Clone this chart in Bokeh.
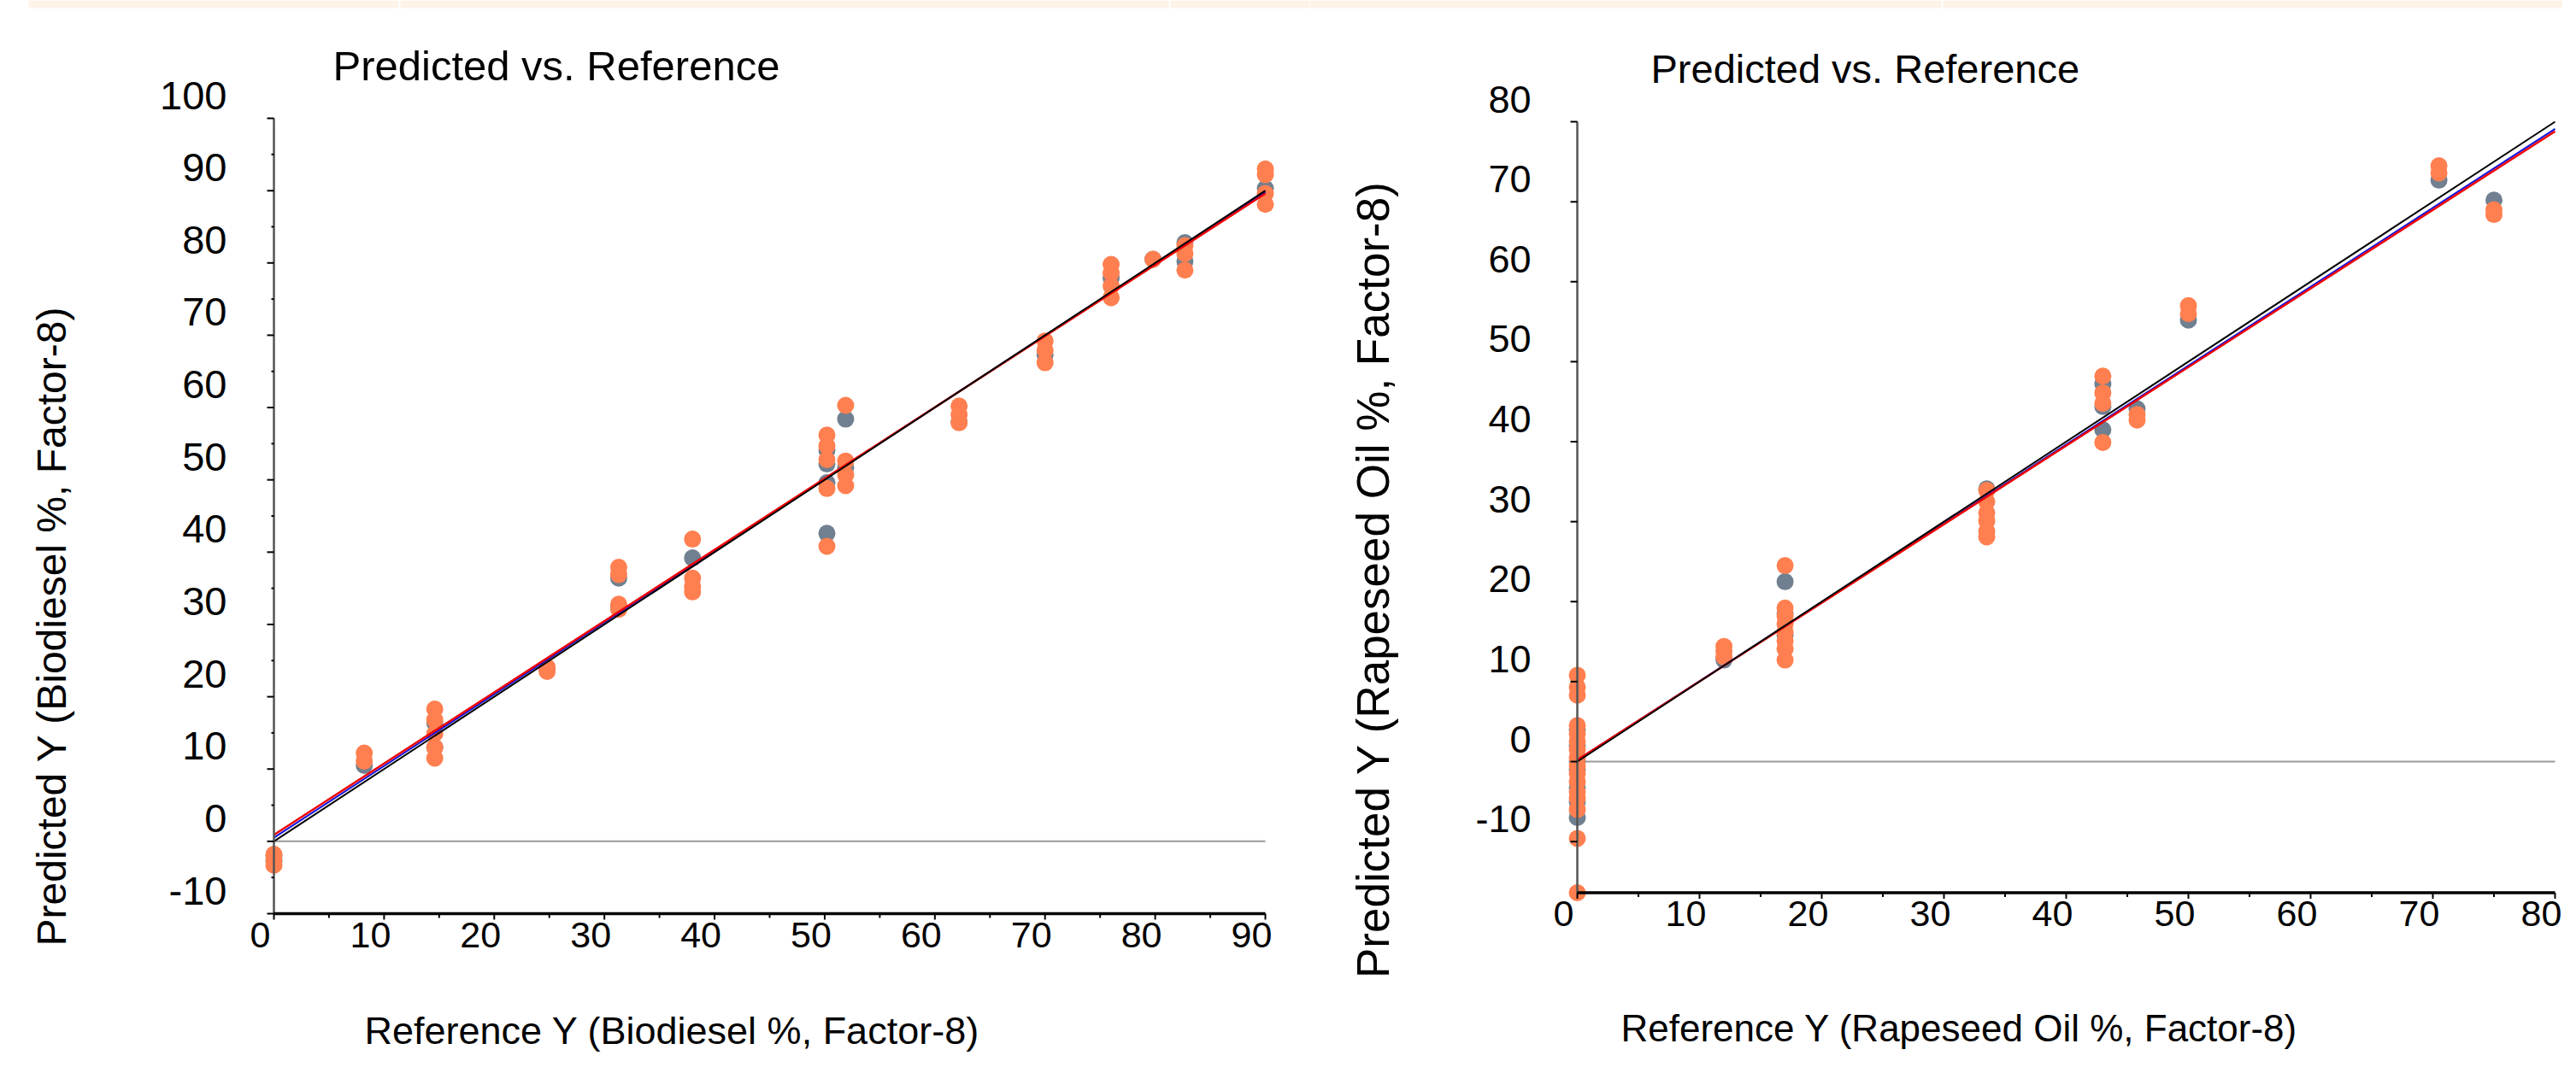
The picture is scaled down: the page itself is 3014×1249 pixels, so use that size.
import math
from bokeh.plotting import figure
from bokeh.layouts import row
from bokeh.models import Range1d, Label, LabelSet, ColumnDataSource
from bokeh.core.properties import value
from bokeh.embed import file_html
from bokeh.resources import INLINE

FONT = "Liberation Sans"
TITLE = "Predicted vs. Reference"
GRAY = "#708090"
ORANGE = "#FF7F50"
BANNER = "#FEF3E7"
TXT_DY = 6   # small upward nudge so text baselines land where intended

# ---------------- Biodiesel chart (left) ----------------
bio_xlabel = "Reference Y (Biodiesel %, Factor-8)"
bio_ylabel = "Predicted Y (Biodiesel %, Factor-8)"
bio_xticks = [0, 10, 20, 30, 40, 50, 60, 70, 80, 90]
bio_yticks = [-10, 0, 10, 20, 30, 40, 50, 60, 70, 80, 90, 100]
bio_xminor = [5, 15, 25, 35, 45, 55, 65, 75, 85]
bio_yminor = [-5, 5, 15, 25, 35, 45, 55, 65, 75, 85, 95]

bio_gray_ref = [0, 0, 8.2, 14.6, 14.6, 24.8, 31.3, 31.3, 38.0, 50.2, 50.2, 50.2,
                50.2, 51.9, 51.9, 62.2, 70.0, 76.0, 79.8, 82.7, 82.7, 90.0]
bio_gray_pred = [-2.0, -2.8, 10.5, 16.4, 13.0, 23.8, 36.4, 32.5, 39.2, 54.1, 52.2, 49.6,
                 42.6, 58.4, 51.7, 58.0, 67.3, 77.9, 80.5, 82.8, 80.2, 90.3]

bio_orange_ref = [0, 0, 0, 8.2, 8.2, 14.6, 14.6, 14.6, 14.6, 14.6, 24.8, 24.8,
                  31.3, 31.3, 31.3, 31.3, 38.0, 38.0, 38.0, 38.0,
                  50.2, 50.2, 50.2, 50.2, 50.2, 51.9, 51.9, 51.9, 51.9,
                  62.2, 62.2, 62.2, 70.0, 70.0, 70.0, 76.0, 76.0, 76.0, 76.0,
                  79.8, 82.7, 82.7, 82.7, 90.0, 90.0, 90.0, 90.0]
bio_orange_pred = [-1.8, -2.5, -3.3, 12.2, 11.1, 18.3, 16.8, 14.9, 13.0, 11.5, 24.1, 23.5,
                   37.9, 36.9, 32.8, 32.1, 41.8, 36.4, 35.2, 34.5,
                   56.2, 54.7, 52.8, 48.8, 40.8, 60.3, 52.6, 50.7, 49.2,
                   60.2, 59.0, 57.9, 69.2, 67.9, 66.2, 79.8, 78.6, 76.8, 75.2,
                   80.5, 82.4, 81.3, 79.0, 93.0, 92.2, 89.6, 88.1]

bio_line_x = [0, 90]
bio_target_y = [0, 90]
bio_fit_red_y = [0.9, 89.6]
bio_fit_blue_y = [0.5, 89.8]

# ---------------- Rapeseed oil chart (right) ----------------
rap_xlabel = "Reference Y (Rapeseed Oil %, Factor-8)"
rap_ylabel = "Predicted Y (Rapeseed Oil %, Factor-8)"
rap_xticks = [0, 10, 20, 30, 40, 50, 60, 70, 80]
rap_yticks = [-10, 0, 10, 20, 30, 40, 50, 60, 70, 80]
rap_xminor = [5, 15, 25, 35, 45, 55, 65, 75]
rap_yminor = []

rap_gray_ref = [0, 0, 0, 0, 0, 0, 0, 12.0, 17.0, 17.0, 17.0, 33.5, 43.0, 43.0, 43.0,
                45.8, 50.0, 70.5, 75.0]
rap_gray_pred = [4.0, 2.0, 0.0, -1.0, -3.3, -5.0, -7.0, 12.7, 22.5, 18.5, 15.8, 34.1,
                 47.2, 44.4, 41.5, 44.1, 55.2, 72.7, 70.2]

rap_orange_ref = [0] * 16 + [12.0] * 3 + [17.0] * 8 + [33.5] * 6 + [43.0] * 4 + \
                 [45.8] * 2 + [50.0] * 2 + [70.5] * 2 + [75.0] * 2
rap_orange_pred = [10.8, 9.3, 8.3, 4.5, 3.5, 2.5, 1.5, 0.5, -0.5, -1.5, -2.5, -3.8,
                   -4.6, -6.0, -9.6, -16.4,
                   14.4, 13.8, 13.1,
                   24.5, 19.2, 18.2, 17.2, 16.2, 15.1, 14.1, 12.7,
                   33.9, 32.5, 31.1, 30.1, 28.8, 28.1,
                   48.2, 46.1, 44.8, 39.9,
                   43.4, 42.7,
                   57.0, 56.0,
                   74.5, 73.6,
                   69.0, 68.4]

rap_line_x = [0, 80]
rap_target_y = [0, 80]
rap_fit_red_y = [0.2, 78.8]
rap_fit_blue_y = [0.2, 79.1]

# page-pixel spans of the thin header strip along the top of the page
BANNER_SPANS = [(41, 474), (476, 1375), (1377, 2279), (2281, 3014)]
BANNER_H = 9


def build_chart(d):
    x_lo, x_hi, y_lo, y_hi = d["x_lo"], d["x_hi"], d["y_lo"], d["y_hi"]
    W, H = d["size"]
    px0 = d["page_x"]             # page x of the canvas left edge
    ox, oy = d["origin"]          # canvas pixel of (x_lo, y_hi)
    kx, ky = d["scale"]           # pixels per data unit
    p = figure(width=W, height=H, min_border=0, title=None,
               x_range=Range1d(x_lo - ox / kx, x_lo + (W - ox) / kx),
               y_range=Range1d(y_hi - (H - oy) / ky, y_hi + oy / ky),
               x_axis_location=None, y_axis_location=None,
               toolbar_location=None, output_backend="svg",
               background_fill_color="white", border_fill_color="white")
    p.outline_line_color = None
    p.grid.visible = False

    # header strip
    bl, br = [], []
    for a, b in BANNER_SPANS:
        a, b = max(a - px0, 0), min(b - px0, W)
        if b > a:
            bl.append(x_lo + (a - ox) / kx)
            br.append(x_lo + (b - ox) / kx)
    p.quad(left=bl, right=br, top=y_hi + oy / ky, bottom=y_hi + (oy - BANNER_H) / ky,
           fill_color=BANNER, line_color=None)

    # zero line
    p.segment(x0=x_lo, y0=0, x1=x_hi, y1=0, line_color="#999999", line_width=2)

    # points
    p.scatter(d["gray_x"], d["gray_y"], size=20, fill_color=GRAY, line_color=None)
    p.scatter(d["orange_x"], d["orange_y"], size=20, fill_color=ORANGE, line_color=None)

    # lines
    p.line(d["line_x"], d["blue_y"], line_color="#1010DD", line_width=2)
    p.line(d["line_x"], d["red_y"], line_color="#EE0000", line_width=2.5)
    p.line(d["line_x"], d["target_y"], line_color="black", line_width=2)

    # axes: lines and tick marks at x = x_lo and y = y_lo
    p.segment(x0=x_lo, y0=y_lo, x1=x_lo, y1=y_hi, line_color="#555555", line_width=2.5)
    p.segment(x0=x_lo, y0=y_lo, x1=x_hi, y1=y_lo, line_color="black", line_width=3.5)
    yt, xt = d["yticks"], d["xticks"]
    p.ray(x=[x_lo] * len(yt), y=yt, length=8, length_units="screen", angle=math.pi,
          line_color="black", line_width=2)
    if d["yminor"]:
        p.ray(x=[x_lo] * len(d["yminor"]), y=d["yminor"], length=3, length_units="screen",
              angle=math.pi, line_color="black", line_width=2)
    p.ray(x=xt, y=[y_lo] * len(xt), length=7, length_units="screen", angle=-math.pi / 2,
          line_color="black", line_width=2)
    p.ray(x=d["xminor"], y=[y_lo] * len(d["xminor"]), length=5, length_units="screen",
          angle=-math.pi / 2, line_color="black", line_width=2)

    # tick labels
    ysrc = ColumnDataSource(dict(x=[x_lo] * len(yt), y=yt, t=[str(v) for v in yt]))
    p.add_layout(LabelSet(x="x", y="y", text="t", source=ysrc,
                          x_offset=d["ytick_dx"], y_offset=5 + TXT_DY,
                          text_align="right", text_baseline="alphabetic",
                          text_font=value(FONT), text_font_size=value(d["ytick_fs"]),
                          text_color="black"))
    xsrc = ColumnDataSource(dict(x=xt, y=[y_lo] * len(xt), t=[str(v) for v in xt]))
    p.add_layout(LabelSet(x="x", y="y", text="t", source=xsrc,
                          x_offset=-16, y_offset=-45 + TXT_DY,
                          text_align="center", text_baseline="alphabetic",
                          text_font=value(FONT), text_font_size=value(d["xtick_fs"]),
                          text_color="black"))

    # title and axis titles (anchored by their left end / baseline)
    p.add_layout(Label(x=x_lo, y=y_hi, x_offset=d["title_off"][0],
                       y_offset=d["title_off"][1] + TXT_DY,
                       text=TITLE, text_font=FONT, text_font_size=d["title_fs"],
                       text_align="left", text_baseline="alphabetic", text_color="black"))
    p.add_layout(Label(x=x_lo, y=y_lo, x_offset=d["xlab_off"][0],
                       y_offset=d["xlab_off"][1] + TXT_DY,
                       text=d["xlabel"], text_font=FONT, text_font_size=d["xlab_fs"],
                       text_align="left", text_baseline="alphabetic", text_color="black"))
    p.add_layout(Label(x=x_lo, y=y_lo, x_offset=d["ylab_off"][0] - TXT_DY,
                       y_offset=d["ylab_off"][1],
                       text=d["ylabel"], text_font=FONT, text_font_size=d["ylab_fs"],
                       angle=math.pi / 2,
                       text_align="left", text_baseline="alphabetic", text_color="black"))
    return p


left = build_chart(dict(
    x_lo=0, x_hi=max(bio_xticks), y_lo=min(bio_yticks), y_hi=max(bio_yticks),
    size=(1532, 1233), page_x=8, origin=(320, 138), scale=(1160 / 90, 931 / 110),
    xticks=bio_xticks, yticks=bio_yticks, xminor=bio_xminor, yminor=bio_yminor,
    gray_x=bio_gray_ref, gray_y=bio_gray_pred, orange_x=bio_orange_ref, orange_y=bio_orange_pred,
    line_x=bio_line_x, target_y=bio_target_y, red_y=bio_fit_red_y, blue_y=bio_fit_blue_y,
    ytick_dx=-55, ytick_fs="47px", xtick_fs="43px",
    title_off=(69, 56), title_fs="49px",
    xlab_off=(106, -143), xlab_fs="45px",
    ylab_off=(-254, -38), ylab_fs="48px",
    xlabel=bio_xlabel, ylabel=bio_ylabel))

rap_ymin = min(rap_gray_pred + rap_orange_pred)
right = build_chart(dict(
    x_lo=0, x_hi=max(rap_xticks), y_lo=rap_ymin, y_hi=max(rap_yticks),
    size=(1466, 1233), page_x=1540, origin=(313, 142), scale=(1144 / 80, 749 / 80),
    xticks=rap_xticks, yticks=rap_yticks, xminor=rap_xminor, yminor=rap_yminor,
    gray_x=rap_gray_ref, gray_y=rap_gray_pred, orange_x=rap_orange_ref, orange_y=rap_orange_pred,
    line_x=rap_line_x, target_y=rap_target_y, red_y=rap_fit_red_y, blue_y=rap_fit_blue_y,
    ytick_dx=-54, ytick_fs="45px", xtick_fs="43px",
    title_off=(86, 56), title_fs="47px",
    xlab_off=(51, -164), xlab_fs="44px",
    ylab_off=(-233, -100), ylab_fs="53px",
    xlabel=rap_xlabel, ylabel=rap_ylabel))

layout = row(left, right, spacing=0)
open("out.html", "w").write(file_html(layout, INLINE))
